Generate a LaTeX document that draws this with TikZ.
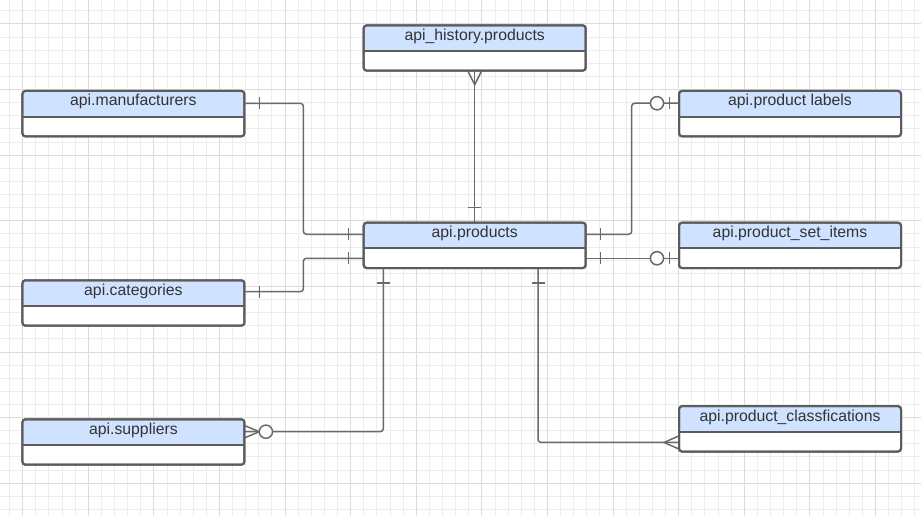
\documentclass[tikz,border=0pt]{standalone}
\usepackage{fontspec}
\setmainfont{Liberation Sans}
\usetikzlibrary{calc}
\definecolor{hdr}{HTML}{CFE2FF}
\definecolor{bc}{HTML}{5C5C5C}
\definecolor{cc}{HTML}{6A6A6A}
\definecolor{tc}{HTML}{333333}
\definecolor{gmin}{HTML}{EDEDED}
\definecolor{gmaj}{HTML}{DCDCDC}
\tikzset{
  entity/.style={draw=bc, line width=2pt, rounded corners=3pt, fill=white,
    minimum width=222pt, minimum height=45.4pt, inner sep=0pt, outer sep=0pt,
    path picture={
      \fill[hdr] (path picture bounding box.north west) rectangle ([yshift=-25.6pt]path picture bounding box.north east);
      \draw[bc, line width=2pt] ([yshift=-25.6pt]path picture bounding box.north west) -- ([yshift=-25.6pt]path picture bounding box.north east);
    }},
  lbl/.style={font=\fontsize{15.8}{18}\selectfont, text=tc, inner sep=0pt, anchor=base},
  conn/.style={draw=cc, line width=1.5pt, rounded corners=3pt},
  crow/.style={draw=cc, line width=1.5pt},
  zcirc/.style={draw=cc, fill=white, line width=1.5pt}
}
\begin{document}
\begin{tikzpicture}[x=1pt,y=-1pt]
\useasboundingbox (0,0) rectangle (921,516);
\fill[white] (0,0) rectangle (921,516);
% grid
\foreach \k in {-1,...,68} \draw[gmin, line width=1pt] ({22.7+13.12*\k},0) -- ({22.7+13.12*\k},516);
\foreach \k in {-1,...,37} \draw[gmin, line width=1pt] (0,{24+13.12*\k}) -- (921,{24+13.12*\k});
\foreach \k in {0,5,...,65} \draw[gmaj, line width=1pt] ({22.7+13.12*\k},0) -- ({22.7+13.12*\k},516);
\foreach \k in {0,5,...,35} \draw[gmaj, line width=1pt] (0,{24+13.12*\k}) -- (921,{24+13.12*\k});

% entities
\node[entity] (hist) at (474.7,48) {};
\node[entity] (prod) at (474.7,245.35) {};
\node[entity] (man) at (133.4,113.65) {};
\node[entity] (cat) at (133.4,303) {};
\node[entity] (sup) at (133.4,442) {};
\node[entity] (lab) at (790,113.65) {};
\node[entity] (set) at (790,245.35) {};
\node[entity] (cls) at (790,428.85) {};

\node[lbl] (histT) at ($(hist.north)+(0,15)$) {api\_history.products};
\node[lbl] (prodT) at ($(prod.north)+(0,15)$) {api.products};
\node[lbl] (manT) at ($(man.north)+(0,15)$) {api.manufacturers};
\node[lbl] (catT) at ($(cat.north)+(0,15)$) {api.categories};
\node[lbl] (supT) at ($(sup.north)+(0,15)$) {api.suppliers};
\node[lbl] (labT) at ($(lab.north)+(0,15)$) {api.product labels};
\node[lbl] (setT) at ($(set.north)+(0,15)$) {api.product\_set\_items};
\node[lbl] (clsT) at ($(cls.north)+(0,15)$) {api.product\_classfications};

% connection points
\coordinate (manE) at ($(man.north east)+(0,12.4)$);
\coordinate (prodW1) at ($(prod.north west)+(0,11.6)$);
\coordinate (catE) at ($(cat.north east)+(0,11.4)$);
\coordinate (prodW2) at ($(prod.north west)+(0,35.6)$);
\coordinate (prodE1) at ($(prod.north east)+(0,11.6)$);
\coordinate (labW) at ($(lab.north west)+(0,12.3)$);
\coordinate (prodE2) at ($(prod.north east)+(0,35.6)$);
\coordinate (setW) at ($(set.north west)+(0,35.6)$);
\coordinate (prodS1) at ($(prod.south west)+(19.6,0)$);
\coordinate (supE) at ($(sup.north east)+(0,12.4)$);
\coordinate (prodS2) at ($(prod.south west)+(174.3,0)$);
\coordinate (clsW) at ($(cls.north west)+(0,36.3)$);

% hist - prod
\draw[conn] (hist.south) -- (prod.north);
\draw[crow] ($(hist.south)+(-7,0)$) -- ($(hist.south)+(0,14)$) -- ($(hist.south)+(7,0)$);
\draw[crow] ($(prod.north)+(-6.5,-15)$) -- ($(prod.north)+(6.5,-15)$);

% man - prod
\draw[conn] (manE) -- ++(59,0) |- (prodW1);
\draw[crow] ($(manE)+(15,-6)$) -- ($(manE)+(15,6)$);
\draw[crow] ($(prodW1)+(-15,-6)$) -- ($(prodW1)+(-15,6)$);

% cat - prod
\draw[conn] (catE) -- ++(59,0) |- (prodW2);
\draw[crow] ($(catE)+(15,-6)$) -- ($(catE)+(15,6)$);
\draw[crow] ($(prodW2)+(-15,-6)$) -- ($(prodW2)+(-15,6)$);

% prod - lab
\draw[conn] (prodE1) -- ++(46,0) |- (labW);
\draw[crow] ($(prodE1)+(15,-6)$) -- ($(prodE1)+(15,6)$);
\draw[crow] ($(labW)+(-9.3,-6)$) -- ($(labW)+(-9.3,6)$);
\draw[zcirc] ($(labW)+(-22,0)$) circle[radius=6.6];

% prod - set
\draw[conn] (prodE2) -- (setW);
\draw[crow] ($(prodE2)+(15,-6)$) -- ($(prodE2)+(15,6)$);
\draw[crow] ($(setW)+(-9.3,-6)$) -- ($(setW)+(-9.3,6)$);
\draw[zcirc] ($(setW)+(-22,0)$) circle[radius=6.6];

% prod - sup
\draw[conn] (prodS1) |- (supE);
\draw[crow] ($(prodS1)+(-6.5,14.7)$) -- ($(prodS1)+(6.5,14.7)$);
\draw[crow] ($(supE)+(0,-6.2)$) -- ($(supE)+(15,0)$) -- ($(supE)+(0,6.2)$);
\draw[zcirc] ($(supE)+(21.5,0)$) circle[radius=6.6];

% prod - cls
\draw[conn] (prodS2) |- (clsW);
\draw[crow] ($(prodS2)+(-6.5,15)$) -- ($(prodS2)+(6.5,15)$);
\draw[crow] ($(clsW)+(0,-6.6)$) -- ($(clsW)+(-15,0)$) -- ($(clsW)+(0,6.6)$);

% redraw entity borders on top of connector ends
\foreach \n in {hist,prod,man,cat,sup,lab,set,cls}
  \draw[bc, line width=2pt, rounded corners=3pt] (\n.north west) rectangle (\n.south east);
\end{tikzpicture}
\end{document}
